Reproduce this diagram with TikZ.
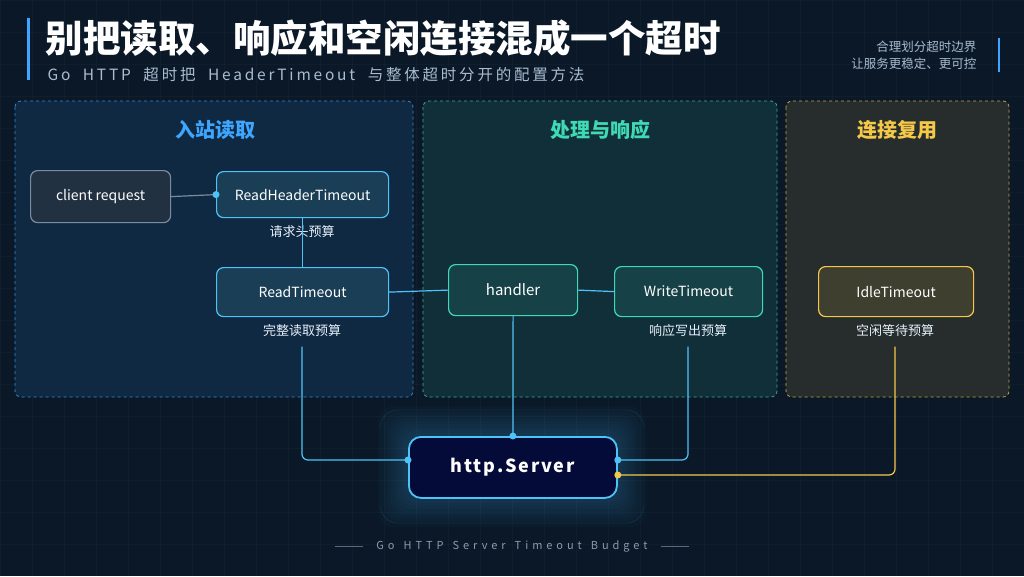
\documentclass[tikz,border=0pt]{standalone}
\usepackage{fontspec}
\setmainfont{Noto Sans CJK SC}
\newfontfamily\spaced[LetterSpace=36,WordSpace=1.4]{Noto Sans CJK SC}
\newfontfamily\spacedb[LetterSpace=18,WordSpace=2]{Noto Sans CJK SC}
\newfontfamily\spacedc[LetterSpace=10]{Noto Sans CJK SC}
\usetikzlibrary{positioning}
\definecolor{bg}{HTML}{0A1828}
\definecolor{blu}{HTML}{4FC3F7}
\definecolor{bluT}{HTML}{3EA6FF}
\definecolor{grn}{HTML}{3FD9B5}
\definecolor{yel}{HTML}{F5C84A}
\definecolor{txt}{HTML}{E6F0FA}
\definecolor{sub}{HTML}{A9BCD0}
\tikzset{
 box/.style={draw=#1,line width=1.2pt,rounded corners=7pt,fill=#1!22!bg,text=white,font=\fontsize{14}{16}\selectfont,anchor=north west,inner sep=0pt},
 panel/.style={draw=#1!80!bg,dashed,line width=0.8pt,rounded corners=6pt,fill=#1!12!bg},
 ptitle/.style={font=\bfseries\fontsize{20}{22}\selectfont,text=#1},
 lbl/.style={text=txt,font=\fontsize{13}{15}\selectfont},
 wire/.style={draw=blu,line width=1.2pt,rounded corners=6pt},
 dot/.style={circle,fill=#1,inner sep=0pt,minimum size=7pt},
}
\begin{document}
\begin{tikzpicture}[x=1pt,y=-1pt]
\useasboundingbox (0,0) rectangle (1024,576);
\fill[bg] (0,0) rectangle (1024,576);
\foreach \i in {0,32,...,1024} \draw[white,opacity=0.025] (\i,0)--(\i,576);
\foreach \i in {0,32,...,576} \draw[white,opacity=0.025] (0,\i)--(1024,\i);
% header
\fill[bluT] (27,18) rectangle (30,80);
\node[anchor=west,text=white,font=\bfseries\fontsize{37.5}{40}\selectfont] (title) at (42,38) {别把读取、响应和空闲连接混成一个超时};
\node[anchor=west,text=sub,font=\spacedb\fontsize{15.5}{17}\selectfont] (subt) at (44,75) {Go HTTP 超时把 HeaderTimeout 与整体超时分开的配置方法};
\node[anchor=east,text=sub,font=\fontsize{12.5}{14}\selectfont,align=right] (rt) at (980,55) {合理划分超时边界\\[3pt]让服务更稳定、更可控};
\fill[bluT] (998,38) rectangle (1000,72);
% panels
\draw[panel=bluT] (15,101) rectangle (413,397);
\draw[panel=grn] (423,101) rectangle (777,397);
\draw[panel=yel] (786,101) rectangle (1009,397);
\node[ptitle=bluT] (p1) at (215,130) {入站读取};
\node[ptitle=grn] (p2) at (600,130) {处理与响应};
\node[ptitle=yel] (p3) at (897,130) {连接复用};
% server glow
\foreach \k in {30,27,...,3}
  \fill[blu,opacity=0.025,rounded corners=16pt] (408-\k,436-\k) rectangle (616+\k,497+\k);
\draw[blu,opacity=0.15,rounded corners=18pt] (380,410) rectangle (644,523);
% nodes
\node[box=sub!70!bg,minimum width=140pt,minimum height=52pt] (cr) at (30,170) {client request};
\node[box=blu,minimum width=172pt,minimum height=46pt] (rht) at (216,171) {ReadHeaderTimeout};
\node[box=blu,minimum width=172pt,minimum height=49pt] (rt2) at (216,267) {ReadTimeout};
\node[box=grn,minimum width=129pt,minimum height=51pt,font=\fontsize{15}{17}\selectfont] (h) at (448,264) {handler};
\node[box=grn,minimum width=148pt,minimum height=50pt] (wt) at (614,266) {WriteTimeout};
\node[box=yel,minimum width=155pt,minimum height=50pt] (it) at (818,266) {IdleTimeout};
\node[box=blu,line width=1.8pt,rounded corners=12pt,fill=bg!75!blue!60!black,minimum width=208pt,minimum height=61pt,font=\spacedc\bfseries\fontsize{18}{20}\selectfont] (srv) at (408,436) {http.Server};
\node[lbl] (l1) at (302,232) {请求头预算};
\node[lbl] (l2) at (302,331) {完整读取预算};
\node[lbl] (l3) at (688,331) {响应写出预算};
\node[lbl] (l4) at (895,331) {空闲等待预算};
% connectors
\coordinate (sl) at (srv.west|-0,460);
\coordinate (sr) at (srv.east|-0,460);
\coordinate (sy) at (srv.east|-0,475);
\draw[wire,draw=sub!70!bg] (cr.east) -- (rht.west);
\node[dot=blu] at (rht.west) {};
\draw[wire] (rht.south) -- (rt2.north);
\draw[wire] (rt2.east) -- (h.west);
\draw[wire] (h.east) -- (wt.west);
\draw[wire] (l2.south) ++(0,6) coordinate (a1) (a1) |- (sl);
\draw[wire] (h.south) -- (srv.north);
\draw[wire] (l3.south) ++(0,6) coordinate (a2) (a2) |- (sr);
\draw[wire,draw=yel] (l4.south) ++(0,6) coordinate (a3) (a3) |- (sy);
\node[dot=blu] at (sl) {};
\node[dot=blu] at (sr) {};
\node[dot=blu] at (srv.north) {};
\node[dot=yel] at (sy) {};
% footer
\node[text=sub!80!bg,font=\spaced\fontsize{11}{13}\selectfont] (ft) at (512,546) {Go HTTP Server Timeout Budget};
\draw[sub!50!bg] (ft.west) ++(-10,0) -- ++(-28,0);
\draw[sub!50!bg] (ft.east) ++(10,0) -- ++(28,0);
\end{tikzpicture}
\end{document}
